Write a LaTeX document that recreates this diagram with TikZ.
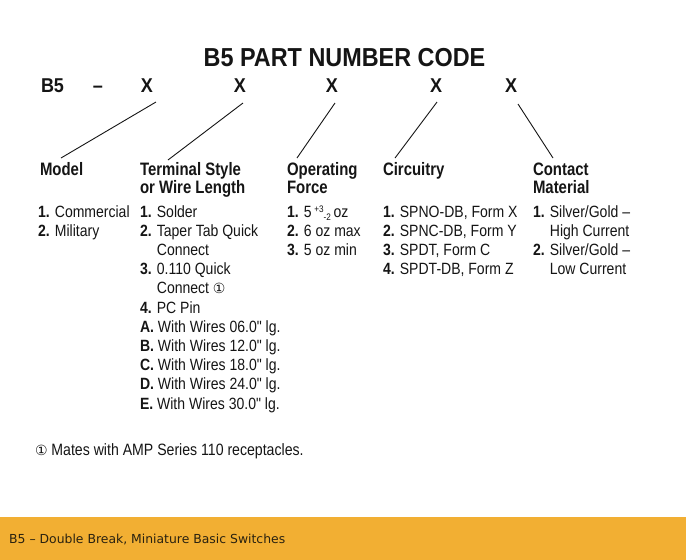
\documentclass[tikz,border=0pt]{standalone}
\usepackage{fontspec}
\setmainfont{Liberation Sans}
\newfontfamily\bodyf[FakeStretch=0.86]{Liberation Sans}
\newfontfamily\headf[FakeStretch=0.83]{Liberation Sans}
\newfontfamily\titlef[FakeStretch=0.9]{Liberation Sans}
\newfontfamily\footf{DejaVu Sans}
\newfontfamily\symf{DejaVu Sans}
\definecolor{ink}{HTML}{151515}
\definecolor{barc}{HTML}{F2AF33}
\definecolor{bartext}{HTML}{2A2210}
\newcommand{\circone}{{\symf\fontsize{14}{14}\selectfont ①}}
\tikzset{
  txt/.style={inner sep=0pt, outer sep=0pt, anchor=base west, text=ink},
  item/.style={txt, font=\bodyf\fontsize{16.3}{19}\selectfont},
  head/.style={txt, font=\headf\bfseries\fontsize{18}{19}\selectfont},
  codex/.style={inner sep=0pt, outer sep=0pt, anchor=base, text=ink, font=\titlef\bfseries\fontsize{20}{20}\selectfont},
  leader/.style={draw=ink, line width=0.9pt}
}
\begin{document}
\begin{tikzpicture}[x=1pt,y=-1pt]
\useasboundingbox (0,0) rectangle (686,560);
\fill[white] (0,0) rectangle (686,560);
% title
\node[inner sep=0pt, anchor=base, text=ink, font=\titlef\bfseries\fontsize{26}{26}\selectfont] (title) at (344.5,66) {B5 PART NUMBER CODE};
% code row
\node[codex, anchor=base west] (b5) at (41,92) {B5};
\node[codex] (dash) at (98,92) {–};
\node[codex] (x1) at (147,92) {X};
\node[codex] (x2) at (240,92) {X};
\node[codex] (x3) at (332,92) {X};
\node[codex] (x4) at (436,92) {X};
\node[codex] (x5) at (511,92) {X};
% headings
\node[head] (h1) at (40,175) {Model};
\node[head] (h2a) at (140,175) {Terminal Style};
\node[head] (h2b) at (140,193.5) {or Wire Length};
\node[head] (h3a) at (287,175) {Operating};
\node[head] (h3b) at (287,193.5) {Force};
\node[head] (h4) at (383,175) {Circuitry};
\node[head] (h5a) at (533,175) {Contact};
\node[head] (h5b) at (533,193.5) {Material};
% leaders
\draw[leader] ([shift={(9,10)}]x1.base) -- ([shift={(21,-17)}]h1.base west);
\draw[leader] ([shift={(3,11)}]x2.base) -- ([shift={(28,-15)}]h2a.base west);
\draw[leader] ([shift={(3,11)}]x3.base) -- ([shift={(10,-17)}]h3a.base west);
\draw[leader] ([shift={(1,10)}]x4.base) -- ([shift={(12,-17)}]h4.base west);
\draw[leader] ([shift={(7,12)}]x5.base) -- ([shift={(20,-17)}]h5a.base west);
% model
\foreach \t [count=\i] in {{\textbf{1.} Commercial},{\textbf{2.} Military}}
  \node[item] (m\i) at (38,{217+19.2*(\i-1)}) {\t};
% terminal
\foreach \t [count=\i] in {{\textbf{1.} Solder},{\textbf{2.} Taper Tab Quick},{\hphantom{\textbf{2.} }Connect},{\textbf{3.} 0.110 Quick},{\hphantom{\textbf{3.} }Connect \circone},{\textbf{4.} PC Pin},{\textbf{A.} With Wires 06.0" lg.},{\textbf{B.} With Wires 12.0" lg.},{\textbf{C.} With Wires 18.0" lg.},{\textbf{D.} With Wires 24.0" lg.},{\textbf{E.} With Wires 30.0" lg.}}
  \node[item] (t\i) at (140,{217+19.2*(\i-1)}) {\t};
% force
\foreach \t [count=\i] in {{\textbf{1.} 5\,\raisebox{5pt}{\fontsize{9.5}{9.5}\selectfont+3}\raisebox{-3pt}{\fontsize{9.5}{9.5}\selectfont -2}\,oz},{\textbf{2.} 6 oz max},{\textbf{3.} 5 oz min}}
  \node[item] (f\i) at (287,{217+19.2*(\i-1)}) {\t};
% circuitry
\foreach \t [count=\i] in {{\textbf{1.} SPNO-DB, Form X},{\textbf{2.} SPNC-DB, Form Y},{\textbf{3.} SPDT, Form C},{\textbf{4.} SPDT-DB, Form Z}}
  \node[item] (c\i) at (383,{217+19.2*(\i-1)}) {\t};
% contact
\foreach \t [count=\i] in {{\textbf{1.} Silver/Gold –},{\hphantom{\textbf{1.} }High Current},{\textbf{2.} Silver/Gold –},{\hphantom{\textbf{2.} }Low Current}}
  \node[item] (k\i) at (533,{217+19.2*(\i-1)}) {\t};
% footnote
\node[item, font=\bodyf\fontsize{16.4}{18}\selectfont] (note) at (35,455) {\circone\ Mates with AMP Series 110 receptacles.};
% footer bar
\fill[barc] (0,517) rectangle (686,560);
\node[inner sep=0pt, anchor=base west, text=bartext, font=\footf\fontsize{12.4}{12.4}\selectfont] (foot) at (9,543) {B5 – Double Break, Miniature Basic Switches};
\end{tikzpicture}
\end{document}
